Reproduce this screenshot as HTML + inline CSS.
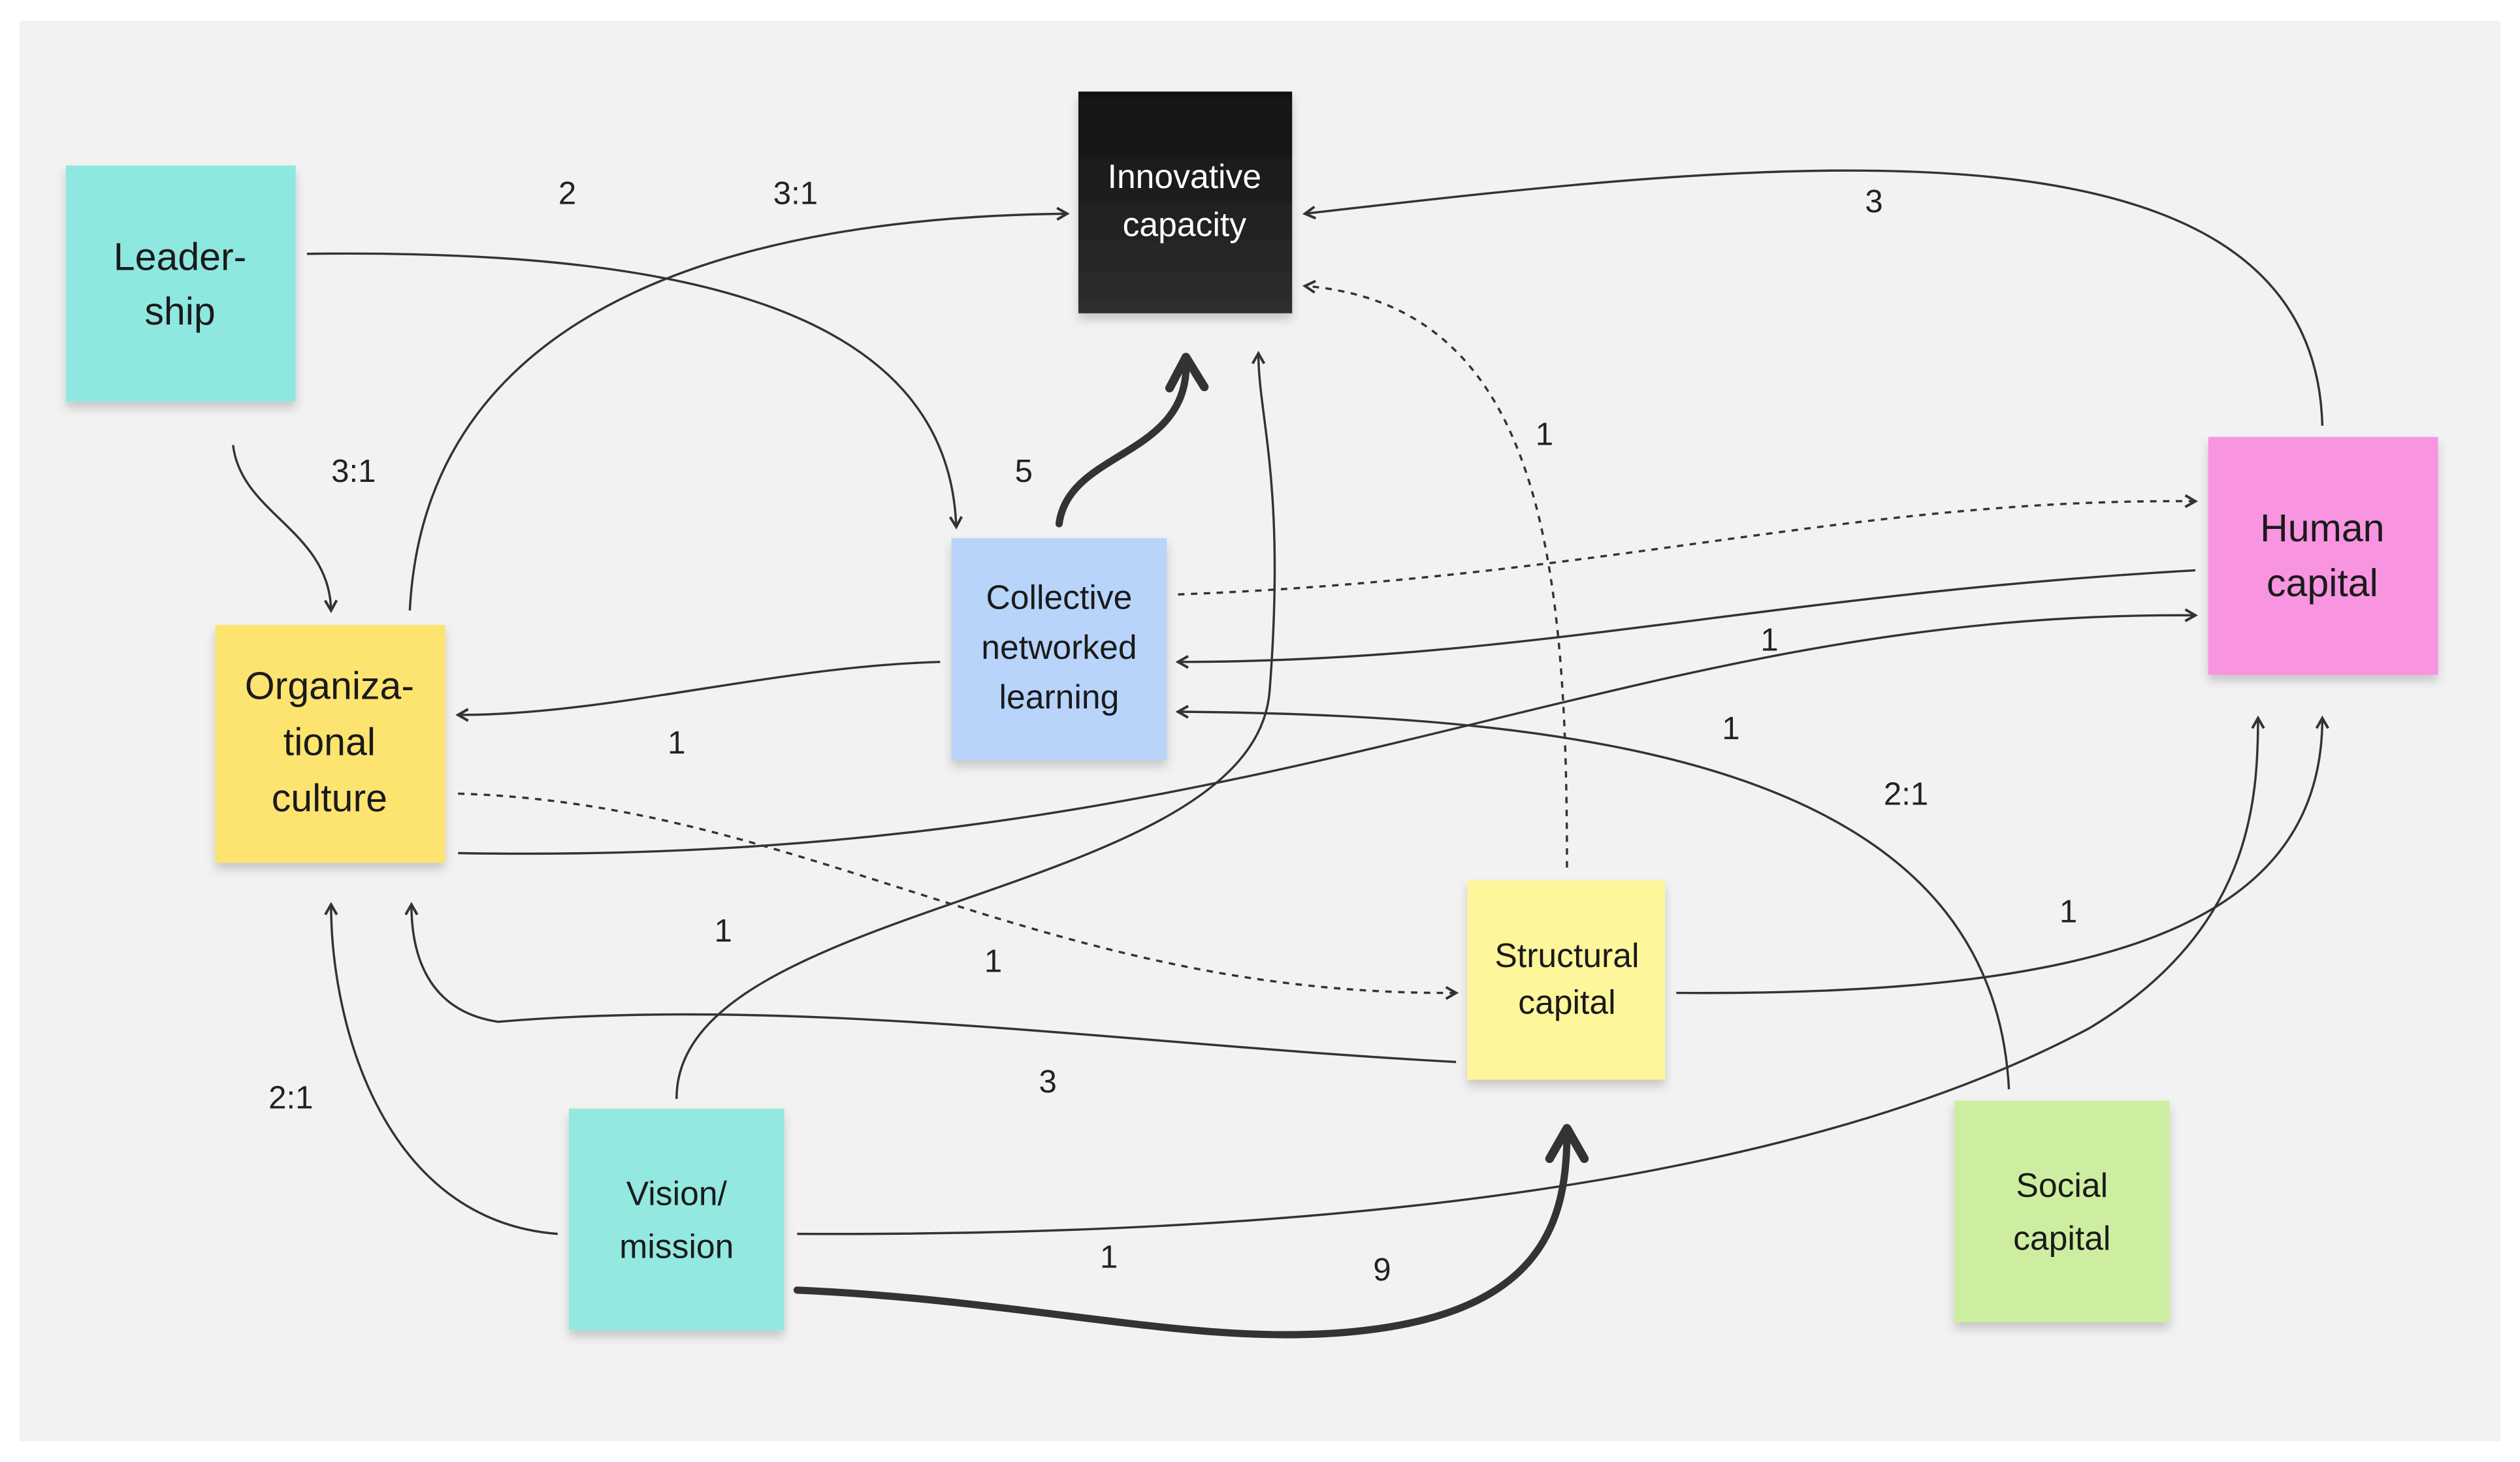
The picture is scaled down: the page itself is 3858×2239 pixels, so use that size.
<!DOCTYPE html>
<html><head><meta charset="utf-8"><style>
html,body{margin:0;padding:0;background:#fff;}
svg{display:block;}
text{font-family:"Liberation Sans",sans-serif;}
</style></head><body>
<svg width="3858" height="2239" viewBox="0 0 1568 910" preserveAspectRatio="none" xmlns="http://www.w3.org/2000/svg">
<defs>
<marker id="a" viewBox="0 0 10 10" refX="8" refY="5" markerWidth="9" markerHeight="9" markerUnits="userSpaceOnUse" orient="auto">
<path d="M1,1 L8,5 L1,9" fill="none" stroke="#333" stroke-width="1.8"/></marker>
<marker id="b" viewBox="0 0 10 10" refX="7" refY="5" markerWidth="6" markerHeight="6" orient="auto">
<path d="M1,1 L8,5 L1,9" fill="none" stroke="#333" stroke-width="2" stroke-linejoin="round" stroke-linecap="round"/></marker>
<linearGradient id="gk" x1="0" y1="0" x2="0" y2="1"><stop offset="0" stop-color="#111"/><stop offset="1" stop-color="#2e2e2e"/></linearGradient>
<filter id="sh" x="-20%" y="-20%" width="140%" height="150%"><feDropShadow dx="0" dy="4" stdDeviation="3" flood-color="#000" flood-opacity="0.18"/></filter>
</defs>
<rect x="12" y="13" width="1544" height="884" fill="#f2f2f2"/>
<g fill="none" stroke="#333" stroke-width="1.4">
<path d="M191,158 C420,155 590,190 595,328" marker-end="url(#a)"/>
<path d="M145,277 C150,320 205,330 206,380" marker-end="url(#a)"/>
<path d="M255,380 C265,180 480,135 664,133" marker-end="url(#a)"/>
<path d="M1445,265 C1440,60 1100,100 812,133" marker-end="url(#a)"/>
<path d="M975,540 C975,350 960,190 812,178" stroke-dasharray="4,4" marker-end="url(#a)"/>
<path d="M421,684 C420,560 780,560 790,430 C800,300 783,260 783,220" marker-end="url(#a)"/>
<path d="M733,370 C1000,360 1150,310 1366,312" stroke-dasharray="4,4" marker-end="url(#a)"/>
<path d="M1366,355 C1100,370 950,412 733,412" marker-end="url(#a)"/>
<path d="M285,531 C800,540 1000,380 1366,383" marker-end="url(#a)"/>
<path d="M585,412 C480,415 380,445 285,445" marker-end="url(#a)"/>
<path d="M285,494 C500,500 650,620 906,618" stroke-dasharray="4,4" marker-end="url(#a)"/>
<path d="M906,661 C700,650 500,620 310,636 C270,630 256,600 256,563" marker-end="url(#a)"/>
<path d="M347,768 C240,760 206,640 206,563" marker-end="url(#a)"/>
<path d="M496,768 C900,770 1150,720 1300,640 C1400,580 1405,500 1405,447" marker-end="url(#a)"/>
<path d="M1043,618 C1300,620 1445,580 1445,447" marker-end="url(#a)"/>
<path d="M1250,678 C1240,480 1000,445 733,443" marker-end="url(#a)"/>
</g>
<g fill="none" stroke="#333" stroke-width="4.5" stroke-linecap="round">
<path d="M659,326 C665,280 740,285 738,225" marker-end="url(#b)"/>
<path d="M496,803 C650,810 750,840 850,828 C960,815 975,760 975,705" marker-end="url(#b)"/>
</g>
<g filter="url(#sh)">
<rect x="41" y="103" width="143" height="147" fill="#8ee8e0"/>
<rect x="671" y="57" width="133" height="138" fill="url(#gk)"/>
<rect x="592" y="335" width="134" height="138" fill="#b8d4fb"/>
<rect x="134" y="389" width="143" height="148" fill="#fde46f"/>
<rect x="1374" y="272" width="143" height="148" fill="#f894e0"/>
<rect x="913" y="548" width="123" height="124" fill="#fef69a"/>
<rect x="354" y="690" width="134" height="138" fill="#93e8e0"/>
<rect x="1216" y="685" width="134" height="138" fill="#cdeea0"/>
</g>
<g font-size="24" fill="#1a1a1a" text-anchor="middle">
<text x="112" y="168">Leader-</text><text x="112" y="202">ship</text>
<text x="205" y="435">Organiza-</text><text x="205" y="470">tional</text><text x="205" y="505">culture</text>
<text x="1445" y="337">Human</text><text x="1445" y="371">capital</text>
</g>
<g font-size="21" fill="#1a1a1a" text-anchor="middle">
<text x="737" y="117" fill="#fff">Innovative</text><text x="737" y="147" fill="#fff">capacity</text>
<text x="659" y="379">Collective</text><text x="659" y="410">networked</text><text x="659" y="441">learning</text>
<text x="975" y="602">Structural</text><text x="975" y="631">capital</text>
<text x="421" y="750">Vision/</text><text x="421" y="783">mission</text>
<text x="1283" y="745">Social</text><text x="1283" y="778">capital</text>
</g>
<g font-size="20" fill="#222" text-anchor="middle">
<text x="353" y="127">2</text><text x="495" y="127">3:1</text><text x="220" y="300">3:1</text>
<text x="637" y="300">5</text><text x="1166" y="132">3</text><text x="961" y="277">1</text>
<text x="1101" y="405">1</text><text x="1077" y="460">1</text><text x="1186" y="501">2:1</text>
<text x="421" y="469">1</text><text x="450" y="586">1</text><text x="618" y="605">1</text>
<text x="652" y="680">3</text><text x="181" y="690">2:1</text><text x="1287" y="574">1</text>
<text x="690" y="789">1</text><text x="860" y="797">9</text>
</g>
</svg>
</body></html>
